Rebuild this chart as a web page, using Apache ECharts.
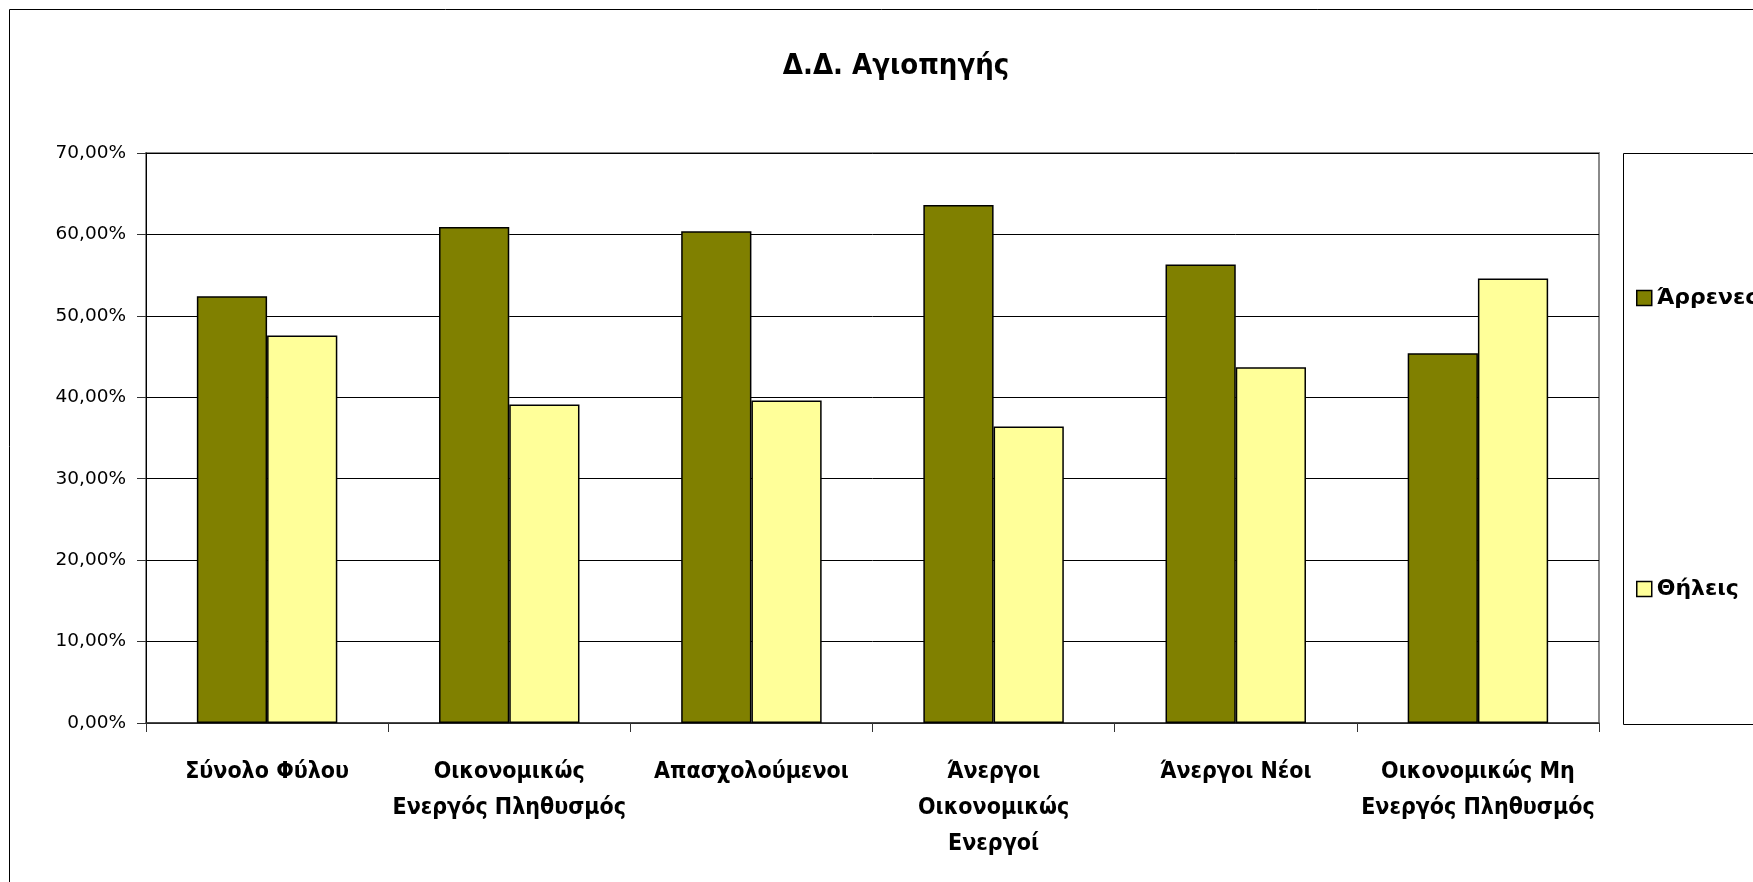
<!DOCTYPE html>
<html>
<head>
<meta charset="utf-8">
<script src="https://cdn.jsdelivr.net/npm/echarts@6/dist/echarts.min.js"></script>
<style>
html,body{margin:0;padding:0;background:#fff;}
#chart{width:1753px;height:882px;}
</style>
</head>
<body>
<div id="chart"></div>
<script>
const titleText = 'Δ.Δ. Αγιοπηγής';
const categories = ['Σύνολο Φύλου', 'Οικονομικώς Ενεργός Πληθυσμός', 'Απασχολούμενοι', 'Άνεργοι Οικονομικώς Ενεργοί', 'Άνεργοι Νέοι', 'Οικονομικώς Μη Ενεργός Πληθυσμός'];
const xTickLabels = ['Σύνολο Φύλου', 'Οικονομικώς\nΕνεργός Πληθυσμός', 'Απασχολούμενοι', 'Άνεργοι\nΟικονομικώς\nΕνεργοί', 'Άνεργοι Νέοι', 'Οικονομικώς Μη\nΕνεργός Πληθυσμός'];
const seriesNames = ['Άρρενες', 'Θήλεις'];
const males = [52.4, 60.9, 60.4, 63.6, 56.3, 45.4];
const females = [47.6, 39.1, 39.6, 36.4, 43.7, 54.6];
const yTicks = [0, 10, 20, 30, 40, 50, 60, 70];

const chart = echarts.init(document.getElementById('chart'), null, {renderer: 'canvas'});
const labelFont = '"Liberation Sans Narrow", "DejaVu Sans Condensed", "Liberation Sans", sans-serif';
const legendText = {fontFamily: '"DejaVu Sans", Verdana, sans-serif', fontWeight: 'bold', fontSize: 22, lineHeight: 16, color: '#000'};
const option = {
  backgroundColor: '#fff',
  animation: false,
  title: {
    text: titleText,
    left: 891, top: 47, textAlign: 'center',
    textStyle: {fontFamily: labelFont, fontWeight: 'bold', fontSize: 29, color: '#000'}
  },
  graphic: [
    {type: 'rect', shape: {x: 9.5, y: 9.5, width: 1800, height: 900}, style: {fill: null, stroke: '#000', lineWidth: 1}, z: -10},
    {type: 'rect', shape: {x: 1623.5, y: 153.5, width: 200, height: 571}, style: {fill: '#fff', stroke: '#000', lineWidth: 1}, z: -5}
  ],
  legend: [
    {left: 1631, top: 282, itemWidth: 15, itemHeight: 15, icon: 'rect',
     itemStyle: {borderColor: '#000', borderWidth: 1.5}, textStyle: legendText, data: [seriesNames[0]]},
    {left: 1631, top: 573, itemWidth: 15, itemHeight: 15, icon: 'rect',
     itemStyle: {borderColor: '#000', borderWidth: 1.5}, textStyle: legendText, data: [seriesNames[1]]}
  ],
  grid: {left: 146, top: 153, right: 154, bottom: 159, show: true, borderColor: '#8a8a8a', borderWidth: 2, backgroundColor: 'transparent'},
  xAxis: {
    type: 'category', data: categories,
    axisLine: {lineStyle: {color: '#333', width: 1.5}},
    axisTick: {show: true, length: 9, lineStyle: {color: '#333'}},
    axisLabel: {
      margin: 31, lineHeight: 36, interval: 0,
      fontFamily: labelFont, fontWeight: 'bold', fontSize: 23, color: '#000',
      formatter: (v, i) => xTickLabels[i]
    }
  },
  yAxis: {
    type: 'value', min: yTicks[0], max: yTicks[yTicks.length - 1], interval: 10,
    axisLine: {show: true, lineStyle: {color: '#000', width: 1}},
    axisTick: {show: true, length: 9, lineStyle: {color: '#333'}},
    splitLine: {lineStyle: {color: '#000', width: 1}},
    axisLabel: {
      margin: 20, fontFamily: '"DejaVu Sans", Verdana, sans-serif', fontSize: 18.5, color: '#000',
      formatter: v => v.toFixed(2).replace('.', ',') + '%'
    }
  },
  series: [
    {name: seriesNames[0], type: 'bar', data: males, barGap: '0%', barCategoryGap: '42%',
     itemStyle: {color: '#808000', borderColor: '#000', borderWidth: 1.5}},
    {name: seriesNames[1], type: 'bar', data: females,
     itemStyle: {color: '#FFFF99', borderColor: '#000', borderWidth: 1.5}}
  ]
};
chart.setOption(option);
</script>
</body>
</html>
